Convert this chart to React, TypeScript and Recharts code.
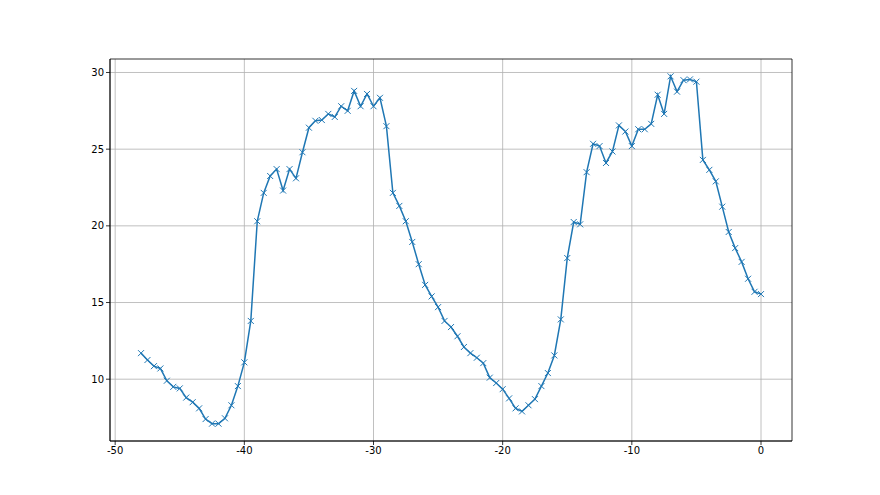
import { LineChart, Line, XAxis, YAxis, CartesianGrid, ReferenceArea } from 'recharts';

// time offsets, -48 .. 0 every 0.5
const xs: number[] = [
  -48, -47.5, -47, -46.5, -46, -45.5, -45, -44.5, -44, -43.5,
  -43, -42.5, -42, -41.5, -41, -40.5, -40, -39.5, -39, -38.5,
  -38, -37.5, -37, -36.5, -36, -35.5, -35, -34.5, -34, -33.5,
  -33, -32.5, -32, -31.5, -31, -30.5, -30, -29.5, -29, -28.5,
  -28, -27.5, -27, -26.5, -26, -25.5, -25, -24.5, -24, -23.5,
  -23, -22.5, -22, -21.5, -21, -20.5, -20, -19.5, -19, -18.5,
  -18, -17.5, -17, -16.5, -16, -15.5, -15, -14.5, -14, -13.5,
  -13, -12.5, -12, -11.5, -11, -10.5, -10, -9.5, -9, -8.5,
  -8, -7.5, -7, -6.5, -6, -5.5, -5, -4.5, -4, -3.5,
  -3, -2.5, -2, -1.5, -1, -0.5, 0,
];

const values: number[] = [
  11.7, 11.25, 10.85, 10.7, 9.9, 9.5, 9.4, 8.8, 8.5, 8.1,
  7.4, 7.1, 7.1, 7.45, 8.3, 9.55, 11.1, 13.8, 20.3, 22.15,
  23.25, 23.7, 22.3, 23.7, 23.1, 24.8, 26.4, 26.85, 26.9, 27.3,
  27.1, 27.8, 27.5, 28.8, 27.8, 28.6, 27.8, 28.35, 26.5, 22.15,
  21.3, 20.3, 18.95, 17.5, 16.15, 15.4, 14.7, 13.8, 13.4, 12.8,
  12.1, 11.7, 11.4, 11.05, 10.1, 9.75, 9.35, 8.75, 8.1, 7.9,
  8.3, 8.7, 9.55, 10.4, 11.55, 13.9, 17.9, 20.25, 20.1, 23.5,
  25.35, 25.2, 24.1, 24.85, 26.55, 26.15, 25.2, 26.3, 26.3, 26.65,
  28.55, 27.3, 29.75, 28.75, 29.5, 29.55, 29.4, 24.3, 23.65, 22.9,
  21.25, 19.6, 18.55, 17.65, 16.55, 15.7, 15.55,
];

const xTicks = [-50, -40, -30, -20, -10, 0];
const yTicks = [10, 15, 20, 25, 30];
const xDomain = [-50.4, 2.4];
const yDomain = [5.97, 30.88];

const data = xs.map((x, i) => ({ x, y: values[i] }));

const BLUE = '#1f77b4';
const tickStyle = { fontFamily: 'DejaVu Sans', fontSize: 10, fill: '#000' };

function XMark(props: any) {
  const { cx, cy } = props;
  if (cx == null || cy == null) return null;
  const s = 3;
  return (
    <path
      d={`M${cx - s},${cy - s}L${cx + s},${cy + s}M${cx - s},${cy + s}L${cx + s},${cy - s}`}
      stroke={BLUE}
      strokeWidth={1}
      fill="none"
    />
  );
}

export default function App() {
  return (
    <div style={{ position: 'absolute', left: 0, top: 0, width: 880, height: 495, background: '#fff' }}>
      <LineChart width={880} height={495} data={data} margin={{ top: 59, right: 88, bottom: 26, left: 70 }}>
        <CartesianGrid stroke="#b0b0b0" strokeWidth={0.8} horizontalValues={yTicks} verticalValues={xTicks} />
        <XAxis
          dataKey="x"
          type="number"
          domain={xDomain}
          allowDataOverflow
          ticks={xTicks}
          tick={tickStyle}
          tickSize={4}
          tickLine={{ stroke: '#000', strokeWidth: 0.8 }}
          axisLine={{ stroke: '#000', strokeWidth: 0.8 }}
          height={28}
        />
        <YAxis
          type="number"
          domain={yDomain}
          allowDataOverflow
          ticks={yTicks}
          tick={tickStyle}
          tickSize={4}
          tickLine={{ stroke: '#000', strokeWidth: 0.8 }}
          axisLine={{ stroke: '#000', strokeWidth: 0.8 }}
          width={40}
        />
        <ReferenceArea
          x1={xDomain[0]}
          x2={xDomain[1]}
          y1={yDomain[0]}
          y2={yDomain[1]}
          fill="none"
          fillOpacity={0}
          stroke="#000"
          strokeWidth={0.8}
          ifOverflow="visible"
        />
        <Line
          type="linear"
          dataKey="y"
          stroke={BLUE}
          strokeWidth={1.5}
          dot={<XMark />}
          activeDot={false}
          isAnimationActive={false}
        />
      </LineChart>
    </div>
  );
}
